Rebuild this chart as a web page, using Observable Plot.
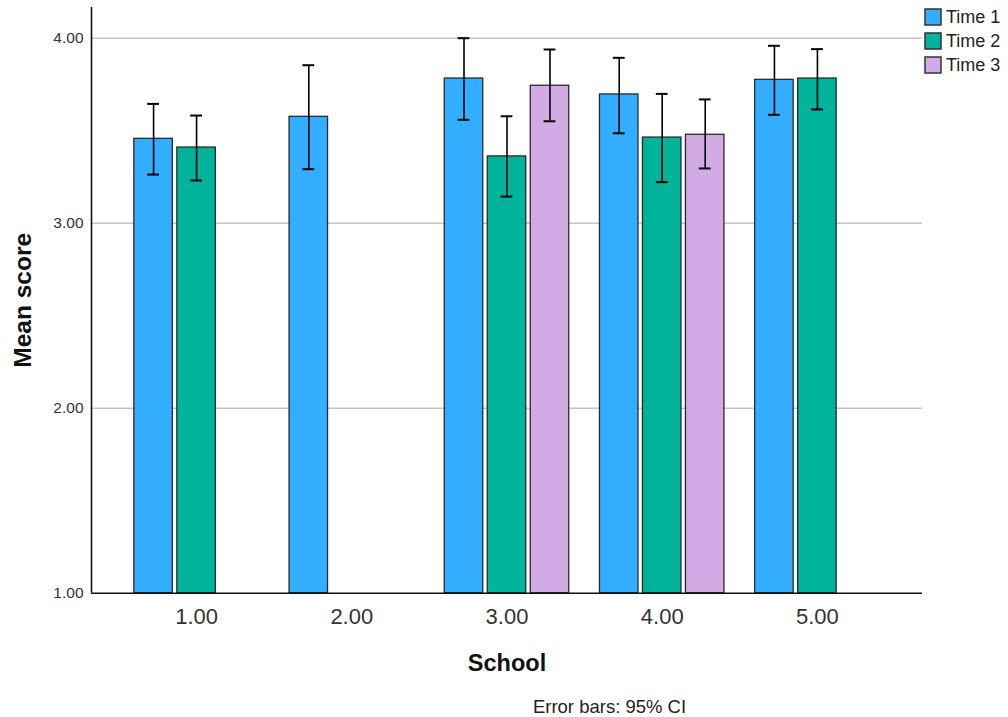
<!DOCTYPE html>
<html>
<head>
<meta charset="utf-8">
<script src="https://cdn.jsdelivr.net/npm/d3@7"></script>
<script src="https://cdn.jsdelivr.net/npm/@observablehq/plot@0.6"></script>
<style>
  html, body { margin: 0; padding: 0; background: #fff; overflow: hidden; }
  #wrap { position: relative; width: 1008px; height: 717px; }
  #legend { position: absolute; left: 925px; top: 5px; }
  .lg-swatches { font-family: "Liberation Sans", Arial, sans-serif; font-size: 18px; color: #222; }
  .lg-swatch { height: 24px; margin: 0 !important; padding: 0 !important; display: flex; align-items: center; }
  .lg-swatch svg { margin-right: 5px !important; overflow: visible; }
  .lg-swatch rect { stroke: #333; stroke-width: 1.5; }
</style>
</head>
<body>
<div id="wrap"><div id="legend"></div></div>
<script>
// ---- data ----
const schools = [1, 2, 3, 4, 5];
const times = ["Time 1", "Time 2", "Time 3"];
const colors = ["#33adff", "#00b39b", "#d2aae4"];

const mean1  = [3.456, 3.575, 3.782, 3.696, 3.775];
const lower1 = [3.263, 3.292, 3.559, 3.486, 3.586];
const upper1 = [3.645, 3.854, 4.000, 3.894, 3.959];

const mean2  = [3.409, null, 3.361, 3.463, 3.782];
const lower2 = [3.231, null, 3.144, 3.222, 3.615];
const upper2 = [3.582, null, 3.578, 3.699, 3.941];

const mean3  = [null, null, 3.743, 3.478, null];
const lower3 = [null, null, 3.551, 3.296, null];
const upper3 = [null, null, 3.939, 3.669, null];

const yTicks = [1, 2, 3, 4];
const gridValues = [2, 3, 4];

// ---- build table ----
const series = [
  {time: times[0], mean: mean1, lo: lower1, hi: upper1},
  {time: times[1], mean: mean2, lo: lower2, hi: upper2},
  {time: times[2], mean: mean3, lo: lower3, hi: upper3}
];
const slot = 0.277;      // distance between clustered bars (school units)
const barW = 0.248;      // bar width (school units)
const capW = 0.038;      // half-width of error bar caps
const rows = [];
series.forEach((s, ti) => {
  schools.forEach((sc, i) => {
    if (s.mean[i] == null) return;
    const c = sc + (ti - 1) * slot;
    rows.push({school: sc, time: s.time, mean: s.mean[i], lo: s.lo[i], hi: s.hi[i],
               xc: c, x1: c - barW / 2, x2: c + barW / 2, c1: c - capW, c2: c + capW});
  });
});

const xDomain = [0.323, 5.677];
const yDomain = [1, 4.166];

const chart = Plot.plot({
  width: 1008,
  height: 717,
  marginLeft: 91,
  marginRight: 86,
  marginTop: 7,
  marginBottom: 124.3,
  style: {fontFamily: "'Liberation Sans', Arial, sans-serif", background: "#fff"},
  x: {domain: xDomain, axis: null},
  y: {domain: yDomain, axis: null},
  color: {domain: times, range: colors},
  marks: [
    Plot.ruleY(gridValues, {stroke: "#c3c3c3", strokeWidth: 1.5}),
    Plot.rect(rows, {x1: "x1", x2: "x2", y1: () => 1, y2: "mean", fill: "time", stroke: "#2a2a2a", strokeWidth: 1.3}),
    Plot.ruleX(rows, {x: "xc", y1: "lo", y2: "hi", stroke: "#000", strokeWidth: 1.6}),
    Plot.ruleY(rows, {y: "lo", x1: "c1", x2: "c2", stroke: "#000", strokeWidth: 2}),
    Plot.ruleY(rows, {y: "hi", x1: "c1", x2: "c2", stroke: "#000", strokeWidth: 2}),
    Plot.ruleX([xDomain[0]], {stroke: "#111", strokeWidth: 1.6}),
    Plot.ruleY([1], {stroke: "#111", strokeWidth: 1.6}),
    Plot.axisY(yTicks, {tickSize: 0, tickPadding: 8, fontSize: 15.5, fill: "#333", tickFormat: d3.format(".2f"), label: null}),
    Plot.axisX(schools, {tickSize: 0, tickPadding: 15, fontSize: 22, fill: "#333", tickFormat: d3.format(".2f"), label: null}),
    Plot.text(["School"], {frameAnchor: "bottom", textAnchor: "middle", lineAnchor: "bottom", dy: 78, fontSize: 23.5, fontWeight: "bold", fill: "#111"}),
    Plot.text(["Mean score"], {frameAnchor: "left", textAnchor: "middle", lineAnchor: "bottom", rotate: -90, dx: -61, fontSize: 24.5, fontWeight: "bold", fill: "#111"}),
    Plot.text(["Error bars: 95% CI"], {frameAnchor: "bottom", textAnchor: "middle", lineAnchor: "bottom", dx: 102.5, dy: 120, fontSize: 18.5, fill: "#222"})
  ]
});
document.getElementById("wrap").prepend(chart);

const legend = Plot.legend({
  color: {domain: times, range: colors},
  legend: "swatches",
  columns: 1,
  swatchSize: 16,
  className: "lg"
});
document.getElementById("legend").appendChild(legend);
</script>
</body>
</html>
